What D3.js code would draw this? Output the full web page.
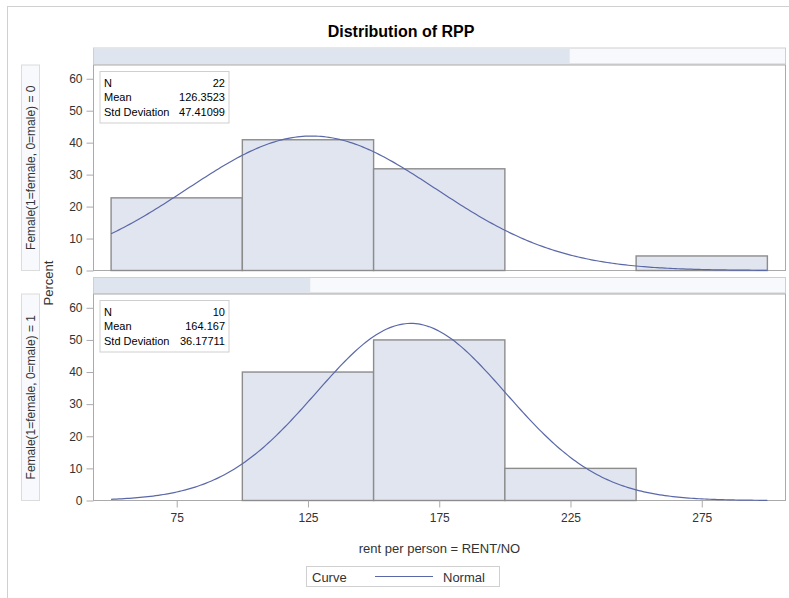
<!DOCTYPE html>
<html>
<head>
<meta charset="utf-8">
<script src="https://cdn.jsdelivr.net/npm/d3@7"></script>
<style>
  body { margin: 0; background: #fff; }
  svg text { font-family: "Liberation Sans", Arial, sans-serif; fill: #333; }
</style>
</head>
<body>
<div id="chart"></div>
<script>
// histogram data, percent per bin (bin width 50)
var binStarts = [50, 100, 150, 200, 250];
var binWidth = 50;
var pctGroup0 = [22.73, 40.91, 31.82, 0, 4.55];
var pctGroup1 = [0, 40, 50, 10, 0];
var groupLabels = ["Female(1=female, 0=male) = 0", "Female(1=female, 0=male) = 1"];
var groupN = [22, 10];
var groupMean = [126.3523, 164.167];
var groupSD = [47.41099, 36.17711];
var meanText = ["126.3523", "164.167"];
var sdText = ["47.41099", "36.17711"];
var xTicks = [75, 125, 175, 225, 275];
var yTicks = [0, 10, 20, 30, 40, 50, 60];

var width = 789, height = 598;
var svg = d3.select("#chart").append("svg")
    .attr("width", width)
    .attr("height", height);

// outer border (only top/left visible)
svg.append("rect")
    .attr("x", 7.5).attr("y", 6.5)
    .attr("width", 820).attr("height", 620)
    .attr("fill", "none").attr("stroke", "#d0d0d0");

svg.append("text")
    .attr("x", 401).attr("y", 37)
    .attr("text-anchor", "middle")
    .style("font-size", "16px").style("font-weight", "bold")
    .style("fill", "#000")
    .text("Distribution of RPP");

var plotLeft = 93.5, plotRight = 785.5;
var x = d3.scaleLinear().domain([43.3, 306.9]).range([plotLeft, plotRight]);

var panels = [
  {top: 65, bottom: 270.5, stripTop: 48, data: pctGroup0},
  {top: 294, bottom: 500.5, stripTop: 277.5, data: pctGroup1}
];
var totalN = d3.sum(groupN);

panels.forEach(function(p, i) {
  var y = d3.scaleLinear().domain([0, 64.3]).range([p.bottom, p.top]);
  var g = svg.append("g");

  // strip on top of the panel
  g.append("rect")
    .attr("x", plotLeft).attr("y", p.stripTop)
    .attr("width", plotRight - plotLeft).attr("height", p.top - p.stripTop - 1)
    .attr("fill", "#f8f9fd").attr("stroke", "#cfcfcf");
  g.append("rect")
    .attr("x", plotLeft + 0.5).attr("y", p.stripTop + 0.5)
    .attr("width", (plotRight - plotLeft) * groupN[i] / totalN)
    .attr("height", p.top - p.stripTop - 2)
    .attr("fill", "#dfe5ee");

  // frame
  g.append("rect")
    .attr("x", plotLeft).attr("y", p.top)
    .attr("width", plotRight - plotLeft).attr("height", p.bottom - p.top)
    .attr("fill", "#fff").attr("stroke", "#aaa");

  // row label
  g.append("rect")
    .attr("x", 21.5).attr("y", p.top)
    .attr("width", 18).attr("height", p.bottom - p.top)
    .attr("fill", "#f7f9fd").attr("stroke", "#dcdcdc");
  g.append("text")
    .attr("transform", "translate(35," + ((p.top + p.bottom) / 2) + ") rotate(-90)")
    .attr("text-anchor", "middle")
    .style("font-size", "12px")
    .text(groupLabels[i]);

  // bars
  g.selectAll(".bar")
    .data(p.data.map(function(v, k) { return {x0: binStarts[k], v: v}; })
      .filter(function(d) { return d.v > 0; }))
    .enter().append("rect")
    .attr("x", function(d) { return x(d.x0); })
    .attr("y", function(d) { return y(d.v); })
    .attr("width", function(d) { return x(d.x0 + binWidth) - x(d.x0); })
    .attr("height", function(d) { return y(0) - y(d.v); })
    .attr("fill", "#e0e5ef")
    .attr("stroke", "#8c8c8c")
    .attr("stroke-width", 1.4);

  // normal curve
  var pts = d3.range(50, 300.01, 1).map(function(v) {
    var z = (v - groupMean[i]) / groupSD[i];
    return [v, 100 * binWidth * Math.exp(-0.5 * z * z) / (groupSD[i] * Math.sqrt(2 * Math.PI))];
  });
  g.append("path")
    .datum(pts)
    .attr("d", d3.line().x(function(d) { return x(d[0]); }).y(function(d) { return y(d[1]); }))
    .attr("fill", "none")
    .attr("stroke", "#5b68a8")
    .attr("stroke-width", 1.2);

  // y axis
  var yAxis = d3.axisLeft(y).tickValues(yTicks).tickSize(7).tickPadding(4);
  var ya = g.append("g")
    .attr("transform", "translate(" + plotLeft + ",0)")
    .call(yAxis);
  ya.select(".domain").remove();
  ya.selectAll("line").attr("stroke", "#aaa");
  ya.selectAll("text").style("font-size", "12px").style("fill", "#333")
    .style("font-family", "'Liberation Sans', Arial, sans-serif");

  // stats inset
  var bx = 100, by = p.top + 6.5;
  g.append("rect")
    .attr("x", bx).attr("y", by)
    .attr("width", 129).attr("height", 51.5)
    .attr("fill", "#fff").attr("stroke", "#cfcfcf");
  var rows = [["N", groupN[i]], ["Mean", meanText[i]], ["Std Deviation", sdText[i]]];
  rows.forEach(function(r, k) {
    g.append("text").attr("x", bx + 4).attr("y", by + 15 + k * 14.5)
      .style("font-size", "11px").style("fill", "#000").text(r[0]);
    g.append("text").attr("x", bx + 125).attr("y", by + 15 + k * 14.5)
      .attr("text-anchor", "end")
      .style("font-size", "11px").style("fill", "#000").text(r[1]);
  });
});

// x axis under the bottom panel
var xAxis = d3.axisBottom(x).tickValues(xTicks).tickSize(7).tickPadding(6);
var xa = svg.append("g")
    .attr("transform", "translate(0," + panels[1].bottom + ")")
    .call(xAxis);
xa.select(".domain").remove();
xa.selectAll("line").attr("stroke", "#aaa");
xa.selectAll("text").style("font-size", "12px").style("fill", "#333")
  .style("font-family", "'Liberation Sans', Arial, sans-serif");

svg.append("text")
    .attr("x", (plotLeft + plotRight) / 2).attr("y", 553)
    .attr("text-anchor", "middle")
    .style("font-size", "13px")
    .text("rent per person = RENT/NO");

svg.append("text")
    .attr("transform", "translate(53,283) rotate(-90)")
    .attr("text-anchor", "middle")
    .style("font-size", "13px")
    .text("Percent");

// legend
var lg = svg.append("g");
lg.append("rect")
    .attr("x", 306.5).attr("y", 566.5)
    .attr("width", 193).attr("height", 20)
    .attr("fill", "#fff").attr("stroke", "#d0d0d0");
lg.append("text").attr("x", 312).attr("y", 581.5)
    .style("font-size", "13px").text("Curve");
lg.append("line")
    .attr("x1", 375).attr("x2", 433).attr("y1", 576.5).attr("y2", 576.5)
    .attr("stroke", "#5b68a8").attr("stroke-width", 1.2);
lg.append("text").attr("x", 443).attr("y", 581.5)
    .style("font-size", "13px").text("Normal");
</script>
</body>
</html>
